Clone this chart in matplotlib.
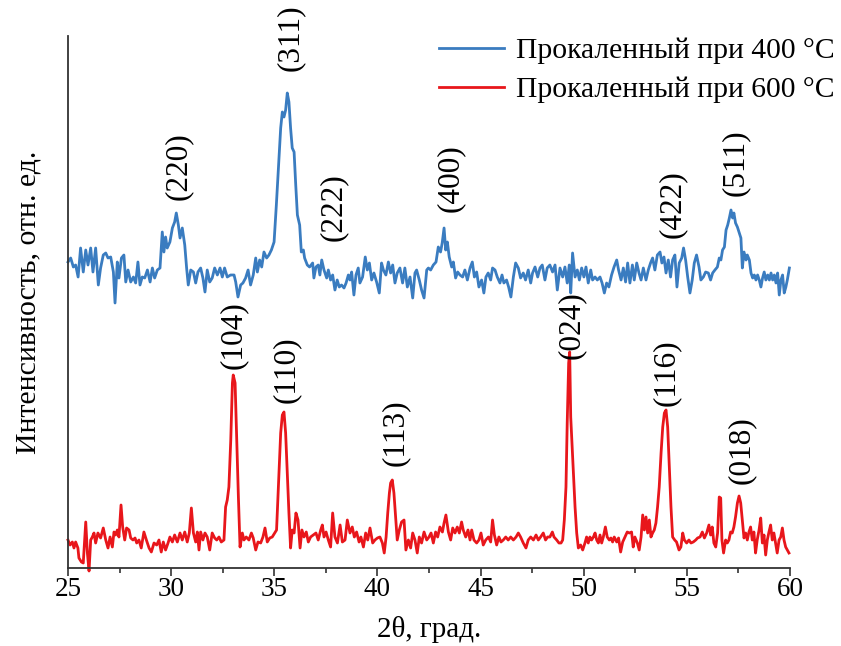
import matplotlib
matplotlib.use("Agg")
import matplotlib.pyplot as plt
from matplotlib.ticker import MultipleLocator

# ---------------- data (2θ in degrees, intensity in arbitrary units) ----------------
x400 = [
    25.00, 25.13, 25.26, 25.37, 25.49, 25.61, 25.74, 25.86, 25.97, 26.10,
    26.21, 26.34, 26.47, 26.58, 26.71, 26.83, 26.94, 27.07, 27.20, 27.28,
    27.39, 27.47, 27.59, 27.71, 27.80, 27.91, 28.04, 28.17, 28.28, 28.39,
    28.49, 28.60, 28.72, 28.85, 28.98, 29.09, 29.20, 29.33, 29.46, 29.57,
    29.65, 29.73, 29.81, 29.94, 30.06, 30.17, 30.25, 30.35, 30.43, 30.54,
    30.66, 30.75, 30.83, 30.95, 31.08, 31.19, 31.30, 31.43, 31.54, 31.64,
    31.75, 31.87, 31.99, 32.11, 32.24, 32.37, 32.48, 32.59, 32.72, 32.88,
    33.05, 33.13, 33.24, 33.37, 33.48, 33.61, 33.73, 33.85, 33.98, 34.10,
    34.18, 34.29, 34.39, 34.50, 34.63, 34.74, 34.86, 34.99, 35.10, 35.20,
    35.31, 35.39, 35.47, 35.55, 35.63, 35.71, 35.79, 35.87, 35.96, 36.04,
    36.12, 36.23, 36.31, 36.41, 36.47, 36.60, 36.71,
    36.86, 36.92, 37.02, 37.13, 37.21, 37.30, 37.41, 37.54, 37.62, 37.73,
    37.83, 37.94, 38.05, 38.15, 38.26, 38.38, 38.48, 38.59, 38.67, 38.75,
    38.86, 38.96, 39.07, 39.15, 39.28, 39.41, 39.51, 39.61, 39.72, 39.83,
    39.96, 40.09, 40.20, 40.29, 40.41, 40.53, 40.64, 40.74, 40.85, 40.96,
    41.09, 41.22, 41.33, 41.45, 41.58, 41.71, 41.82, 41.90, 42.03, 42.14,
    42.26, 42.39, 42.47, 42.58, 42.71, 42.84, 42.95, 43.06, 43.14, 43.23,
    43.31, 43.39, 43.48, 43.60, 43.68, 43.79, 43.89, 44.00, 44.13, 44.24,
    44.36, 44.49, 44.60, 44.70, 44.81, 44.92, 45.05, 45.16, 45.26, 45.37,
    45.49, 45.58, 45.70, 45.81, 45.94, 46.04, 46.13, 46.26, 46.36, 46.47,
    46.59, 46.70, 46.83, 46.94, 47.07, 47.18, 47.31, 47.43, 47.52, 47.64,
    47.77, 47.88, 47.99, 48.12, 48.23, 48.36, 48.49, 48.61, 48.72,
    48.85, 48.98, 49.09, 49.20, 49.30, 49.37, 49.46, 49.58, 49.69, 49.79,
    49.90, 50.01, 50.11, 50.22, 50.34, 50.43, 50.55, 50.66, 50.79, 50.89,
    51.00, 51.11, 51.22, 51.35, 51.47, 51.60, 51.69, 51.81, 51.92, 52.03,
    52.13, 52.24, 52.36, 52.45, 52.57, 52.68, 52.78, 52.89, 53.02, 53.13,
    53.24, 53.34, 53.45, 53.57, 53.70, 53.79, 53.89, 53.99, 54.10, 54.21,
    54.31, 54.42, 54.52, 54.63, 54.75, 54.84, 54.94, 55.04, 55.15, 55.26,
    55.36, 55.47, 55.59, 55.68, 55.80, 55.91, 56.04, 56.15, 56.25, 56.36,
    56.48, 56.57, 56.65, 56.73, 56.82, 56.90, 56.98, 57.06, 57.14, 57.22,
    57.28, 57.36, 57.45, 57.54, 57.62, 57.69, 57.77, 57.87, 57.93, 58.03,
    58.11, 58.19, 58.27, 58.35, 58.43, 58.51, 58.59, 58.67, 58.75, 58.83,
    58.92, 59.00, 59.08, 59.16, 59.24, 59.32, 59.40, 59.48, 59.56, 59.64,
    59.72, 59.80, 59.87, 59.97,
]
i400 = [
    306, 310, 301, 303, 291, 320, 296, 318, 303, 320,
    296, 320, 283, 300, 313, 315, 310, 311, 296, 265,
    306, 290, 310, 313, 286, 298, 286, 291, 285, 306,
    283, 291, 290, 298, 286, 300, 290, 298, 300, 336,
    316, 331, 320, 326, 340, 346, 355, 343, 330, 340,
    323, 300, 283, 298, 296, 285, 296, 300, 290, 276,
    298, 286, 290, 300, 293, 300, 291, 300, 291, 293,
    293, 286, 271, 283, 285, 290, 298, 283, 293, 310,
    296, 308, 301, 316, 310, 313, 318, 326, 363, 400,
    440, 456, 451, 458, 475, 466, 440, 420, 416, 383,
    353, 343, 316, 318, 310, 303, 301,
    305, 290, 301, 303, 293, 308, 298, 290, 298, 288,
    293, 278, 288, 281, 283, 280, 285, 293, 288, 296,
    273, 293, 300, 285, 291, 311, 298, 305, 288, 295,
    286, 275, 305, 298, 293, 306, 295, 303, 285, 295,
    300, 285, 300, 281, 291, 270, 295, 298, 288, 278,
    270, 298, 300, 298, 303, 306, 321, 316, 325, 340,
    318, 326, 311, 301, 306, 290, 296, 293, 291, 298,
    288, 300, 306, 291, 296, 281, 288, 275, 291, 295,
    288, 300, 298, 291, 285, 293, 285, 288, 281, 271,
    291, 305, 300, 290, 295, 288, 298, 285, 295, 301,
    291, 300, 303, 288, 300, 303, 296, 303, 278,
    300, 291, 301, 285, 303, 275, 315, 291, 298, 288,
    300, 291, 301, 285, 298, 288, 291, 288, 291, 285,
    275, 285, 281, 293, 301, 308, 298, 288, 300, 286,
    305, 285, 303, 288, 305, 295, 288, 300, 288, 298,
    305, 310, 298, 313, 316, 305, 311, 295, 308, 291,
    308, 313, 281, 305, 310, 320, 308, 291, 275, 288,
    305, 313, 301, 288, 291, 296, 295, 288, 295, 298,
    301, 310, 308, 318, 321, 338, 343, 350, 358, 350,
    355, 345, 341, 335, 330, 300, 316, 308, 313, 308,
    295, 290, 293, 288, 293, 288, 281, 290, 296, 288,
    293, 288, 295, 288, 293, 285, 295, 273, 288, 293,
    275, 281, 288, 300,
]

x600 = [
    25.00, 25.10, 25.21, 25.29, 25.37, 25.48, 25.53, 25.65, 25.74, 25.86,
    25.94, 26.02, 26.10, 26.18, 26.26, 26.34, 26.45, 26.58, 26.71, 26.83,
    26.94, 27.04, 27.15, 27.23, 27.31, 27.39, 27.47, 27.57, 27.65, 27.75,
    27.84, 27.96, 28.04, 28.15, 28.25, 28.33, 28.44, 28.55, 28.68, 28.80,
    28.93, 29.04, 29.17, 29.30, 29.41, 29.52, 29.62, 29.73, 29.85, 29.94,
    30.06, 30.17, 30.30, 30.43, 30.54, 30.66, 30.78, 30.88, 30.98, 31.08,
    31.19, 31.27, 31.35, 31.43, 31.54, 31.64, 31.75, 31.87, 31.99, 32.11,
    32.21, 32.32, 32.43, 32.56, 32.64, 32.72, 32.80, 32.89, 32.97, 33.01,
    33.10, 33.18, 33.26, 33.34, 33.45, 33.53, 33.64, 33.77, 33.89, 33.98,
    34.10, 34.21, 34.34, 34.45, 34.55, 34.66, 34.78, 34.90, 35.02, 35.11,
    35.23, 35.31, 35.39, 35.47, 35.55, 35.63, 35.71, 35.79, 35.87, 35.96,
    36.05, 36.15, 36.25, 36.34, 36.44, 36.55, 36.65, 36.76,
    37.02, 37.13, 37.25, 37.33, 37.41, 37.51, 37.62, 37.73, 37.83, 37.94,
    38.06, 38.19, 38.30, 38.43, 38.54, 38.67, 38.78, 38.88, 38.99, 39.11,
    39.20, 39.32, 39.43, 39.53, 39.64, 39.77, 39.88, 40.00, 40.12, 40.24,
    40.33, 40.42, 40.50, 40.58, 40.64, 40.72, 40.80, 40.88, 40.96, 41.06,
    41.17, 41.29, 41.38, 41.50, 41.61, 41.71, 41.82, 41.93, 42.03, 42.14,
    42.26, 42.39, 42.50, 42.60, 42.71, 42.82, 42.92, 43.03, 43.15, 43.23,
    43.32, 43.44, 43.55, 43.65, 43.76, 43.87, 43.97, 44.08, 44.16, 44.28,
    44.39, 44.49, 44.57, 44.68, 44.81, 44.92, 45.02, 45.13, 45.25, 45.38,
    45.49, 45.58, 45.67, 45.78, 45.89, 45.99, 46.10, 46.22, 46.34, 46.46,
    46.59, 46.72, 46.83, 46.94, 47.07, 47.20, 47.31, 47.43, 47.56, 47.69,
    47.80, 47.91, 48.04, 48.15, 48.25,
    48.36, 48.48, 48.56, 48.69, 48.80, 48.90, 48.98, 49.06, 49.14, 49.20,
    49.27, 49.32, 49.37, 49.43, 49.50, 49.58, 49.66, 49.74, 49.85, 49.95,
    50.06, 50.14, 50.22, 50.30, 50.38, 50.47, 50.55, 50.63, 50.71, 50.79,
    50.87, 50.95, 51.05, 51.14, 51.24, 51.32, 51.40, 51.48, 51.60, 51.69,
    51.79, 51.89, 52.00, 52.11, 52.21, 52.32, 52.40, 52.48, 52.60, 52.69,
    52.78, 52.86, 52.94, 53.02, 53.10, 53.18, 53.26, 53.34, 53.42, 53.50,
    53.58, 53.66, 53.75, 53.83, 53.91, 53.99, 54.07, 54.15, 54.23, 54.31,
    54.41, 54.50, 54.62, 54.71, 54.80, 54.88, 54.99, 55.10, 55.20, 55.31,
    55.43, 55.52, 55.64, 55.75, 55.85, 55.96, 56.07, 56.15, 56.23, 56.31,
    56.40, 56.49, 56.57, 56.64, 56.70, 56.78, 56.88, 56.96, 57.04, 57.12,
    57.20, 57.28, 57.36, 57.45, 57.53, 57.61, 57.69, 57.77, 57.85, 57.93,
    58.01, 58.09, 58.17, 58.25, 58.33, 58.41, 58.50, 58.58, 58.66, 58.74,
    58.82, 58.90, 58.98, 59.06, 59.14, 59.22, 59.30, 59.38, 59.47, 59.55,
    59.63, 59.71, 59.79, 59.87, 59.95,
]
i600 = [
    28, 23, 26, 20, 26, 20, 10, 6, 5, 46,
    15, -3, 28, 31, 35, 25, 35, 30, 40, 28,
    20, 31, 21, 36, 33, 38, 31, 63, 41, 28,
    40, 38, 30, 28, 30, 25, 28, 20, 36, 28,
    20, 16, 25, 23, 28, 16, 26, 18, 25, 31,
    26, 33, 26, 35, 28, 36, 26, 35, 60, 35,
    26, 36, 18, 36, 28, 35, 31, 18, 35, 30,
    28, 31, 26, 28, 61, 68, 81, 128, 185, 193,
    185, 128, 71, 21, 35, 28, 31, 28, 35, 30,
    18, 26, 25, 31, 40, 26, 30, 31, 35, 38,
    95, 135, 153, 156, 135, 95, 55, 20, 38, 35,
    55, 48, 20, 38, 31, 36, 26, 31,
    35, 28, 38, 43, 31, 36, 28, 21, 55, 31,
    25, 43, 26, 28, 48, 35, 41, 31, 36, 26,
    31, 21, 35, 28, 40, 25, 28, 30, 31, 25,
    15, 31, 55, 75, 85, 88, 75, 51, 28, 38,
    46, 48, 18, 28, 20, 35, 28, 15, 31, 25,
    36, 28, 31, 35, 25, 36, 31, 41, 36, 45,
    53, 36, 28, 40, 35, 41, 35, 46, 38, 31,
    38, 28, 38, 28, 25, 28, 35, 23, 28, 31,
    26, 48, 33, 23, 31, 26, 28, 31, 28, 31,
    28, 31, 35, 31, 25, 20, 28, 31, 28, 33,
    28, 31, 35, 28, 31,
    31, 36, 31, 28, 25, 25, 28, 48, 81, 145,
    205, 216, 151, 125, 95, 61, 35, 20, 23, 18,
    25, 31, 25, 31, 28, 31, 35, 28, 25, 33,
    25, 31, 41, 31, 28, 30, 26, 31, 26, 30,
    16, 26, 31, 36, 35, 36, 21, 31, 25, 18,
    31, 53, 38, 51, 35, 48, 31, 35, 38, 45,
    61, 81, 115, 141, 155, 158, 141, 101, 61, 31,
    28, 26, 18, 21, 35, 28, 25, 28, 25, 26,
    28, 30, 31, 36, 30, 35, 43, 33, 41, 25,
    21, 35, 71, 70, 28, 15, 28, 25, 28, 36,
    35, 41, 51, 65, 72, 65, 48, 30, 35, 28,
    36, 41, 28, 36, 15, 28, 38, 50, 25, 33,
    13, 28, 36, 43, 28, 35, 25, 15, 28, 31,
    40, 28, 21, 18, 15,
]

# Miller-index labels: text, 2θ position, height position
labels_400 = ["(220)", "(311)", "(222)", "(400)", "(422)", "(511)"]
lab400_x = [30.35, 35.76, 37.85, 43.52, 54.30, 57.35]
lab400_y = [402, 530, 361, 390, 364, 405]

labels_600 = ["(104)", "(110)", "(113)", "(024)", "(116)", "(018)"]
lab600_x = [33.00, 35.60, 40.85, 49.38, 54.02, 57.62]
lab600_y = [233, 198, 135, 243, 195, 118]

legend_labels = ["Прокаленный при 400 °C", "Прокаленный при 600 °C"]
xticks = [25, 30, 35, 40, 45, 50, 55, 60]

# ---------------- figure ----------------
plt.rcParams["font.family"] = ["Liberation Serif", "DejaVu Serif"]
plt.rcParams["mathtext.fontset"] = "stix"

fig = plt.figure(figsize=(8.41, 6.46), dpi=100)
ax = fig.add_axes([68 / 841, 78 / 646, 722 / 841, 532 / 646])

blue = "#3a7cc0"
red = "#e8161b"

l1, = ax.plot(x400, i400, color=blue, lw=2.0, label=legend_labels[0], clip_on=False)
l2, = ax.plot(x600, i600, color=red, lw=2.0, label=legend_labels[1], clip_on=False)

for t, xx, yy in zip(labels_400, lab400_x, lab400_y):
    ax.text(xx, yy, t, rotation=90, ha="center", va="center", fontsize=22.5)
for t, xx, yy in zip(labels_600, lab600_x, lab600_y):
    ax.text(xx, yy, t, rotation=90, ha="center", va="center", fontsize=22.5)

ax.set_xlim(25, 60)
ax.set_ylim(0, 532)
ax.set_xticks(xticks)
ax.xaxis.set_minor_locator(MultipleLocator(2.5))
ax.set_yticks([])
ax.tick_params(axis="x", which="major", direction="out", length=6, width=1.2,
               labelsize=19.5, colors="#333333", labelcolor="black", pad=0.5)
ax.tick_params(axis="x", which="minor", direction="out", length=3.5, width=1.2,
               colors="#333333")

for s in ["top", "right"]:
    ax.spines[s].set_visible(False)
for s in ["left", "bottom"]:
    ax.spines[s].set_linewidth(1.3)
    ax.spines[s].set_color("#333333")

ax.set_xlabel("2θ, град.", fontsize=21, labelpad=10)
ax.set_ylabel("Интенсивность, отн. ед.", fontsize=21.5, labelpad=19)

fig.legend(handles=[l1, l2], loc="upper right", bbox_to_anchor=(1.024, 0.983),
           frameon=False, fontsize=21.3, handlelength=2.2, handletextpad=0.4,
           labelspacing=0.42, borderaxespad=0.5)

fig.savefig("out.png", dpi=100)
